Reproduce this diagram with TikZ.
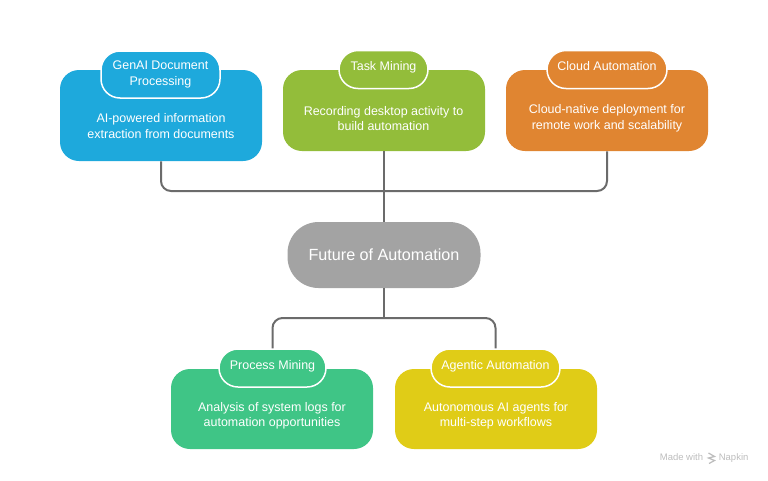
\documentclass[tikz,border=0pt]{standalone}
\usepackage{fontspec}
\setmainfont{Liberation Sans}
\definecolor{genaiblue}{HTML}{1EA9DC}
\definecolor{taskgreen}{HTML}{93BD3A}
\definecolor{cloudorange}{HTML}{E08531}
\definecolor{hubgray}{HTML}{A3A3A3}
\definecolor{miningteal}{HTML}{3FC586}
\definecolor{agentyellow}{HTML}{E0CC17}
\definecolor{linkgray}{HTML}{6B6B6B}
\definecolor{markgray}{HTML}{BDBDBD}
\tikzset{
  cardbox/.style={rectangle, rounded corners=0.38cm, minimum width=4.04cm, inner sep=0pt},
  cardpill/.style={rectangle, rounded corners=0.38cm, draw=white, line width=0.03cm, inner sep=0pt, minimum height=0.76cm, text depth=0.13cm, text=white, align=center, font=\fontsize{7.1}{8.8}\selectfont},
  cardtext/.style={text=white, align=center, font=\fontsize{7.1}{8.8}\selectfont},
  hublink/.style={draw=linkgray, line width=0.04cm, rounded corners=0.2cm},
  markfont/.style={text=markgray, inner sep=0pt, font=\fontsize{5.4}{6}\selectfont}
}
\begin{document}
\begin{tikzpicture}
\useasboundingbox (0,0) rectangle (15.36,9.6);
% Top row of cards
\node [cardbox, fill=genaiblue, minimum height=1.82cm] (genai) at (3.22,7.29) {};
\node [cardpill, fill=genaiblue, minimum width=2.38cm, minimum height=0.94cm, text depth=0.05cm] (genaipill) at (3.21,8.11) {GenAI Document\\Processing};
\node [cardtext] (genaitext) at (3.22,7.08) {AI-powered information\\extraction from documents};

\node [cardbox, fill=taskgreen, minimum height=1.62cm] (task) at (7.68,7.39) {};
\node [cardpill, fill=taskgreen, minimum width=1.78cm] (taskpill) at (7.67,8.21) {Task Mining};
\node [cardtext] (tasktext) at (7.67,7.23) {Recording desktop activity to\\build automation};

\node [cardbox, fill=cloudorange, minimum height=1.62cm] (cloud) at (12.14,7.39) {};
\node [cardpill, fill=cloudorange, minimum width=2.40cm] (cloudpill) at (12.14,8.21) {Cloud Automation};
\node [cardtext] (cloudtext) at (12.14,7.23) {Cloud-native deployment for\\remote work and scalability};

% Center node
\node [rectangle, rounded corners=0.62cm, fill=hubgray, minimum width=3.86cm, minimum height=1.32cm, text=white, font=\fontsize{9.2}{11}\selectfont] (hub) at (7.68,4.50) {Future of Automation};

% Bottom row of cards
\node [cardbox, fill=miningteal, minimum height=1.60cm] (mining) at (5.44,1.42) {};
\node [cardpill, fill=miningteal, minimum width=2.14cm] (miningpill) at (5.45,2.24) {Process Mining};
\node [cardtext] (miningtext) at (5.44,1.28) {Analysis of system logs for\\automation opportunities};

\node [cardbox, fill=agentyellow, minimum height=1.60cm] (agent) at (9.92,1.42) {};
\node [cardpill, fill=agentyellow, minimum width=2.58cm] (agentpill) at (9.91,2.24) {Agentic Automation};
\node [cardtext] (agenttext) at (9.92,1.28) {Autonomous AI agents for\\multi-step workflows};

% Links above and below the center node
\coordinate (topjoin) at (7.68,5.78);
\coordinate (botjoin) at (7.68,3.24);
\draw [hublink] (genai.south) |- (topjoin) -| (cloud.south);
\draw [hublink] (task.south) -- (hub.north);
\draw [hublink] (hub.south) -- (botjoin);
\draw [hublink] (miningpill.north) |- (botjoin) -| (agentpill.north);

% Corner mark
\node [markfont, anchor=base west] (madewith) at (13.19,0.39) {Made with};
\node [markfont, anchor=base west] (napkin) at (14.37,0.39) {Napkin};
\draw [markgray, line width=0.025cm] (14.17,0.54) -- (14.29,0.47) -- (14.17,0.44) -- (14.29,0.39) -- (14.18,0.33);
\end{tikzpicture}
\end{document}
